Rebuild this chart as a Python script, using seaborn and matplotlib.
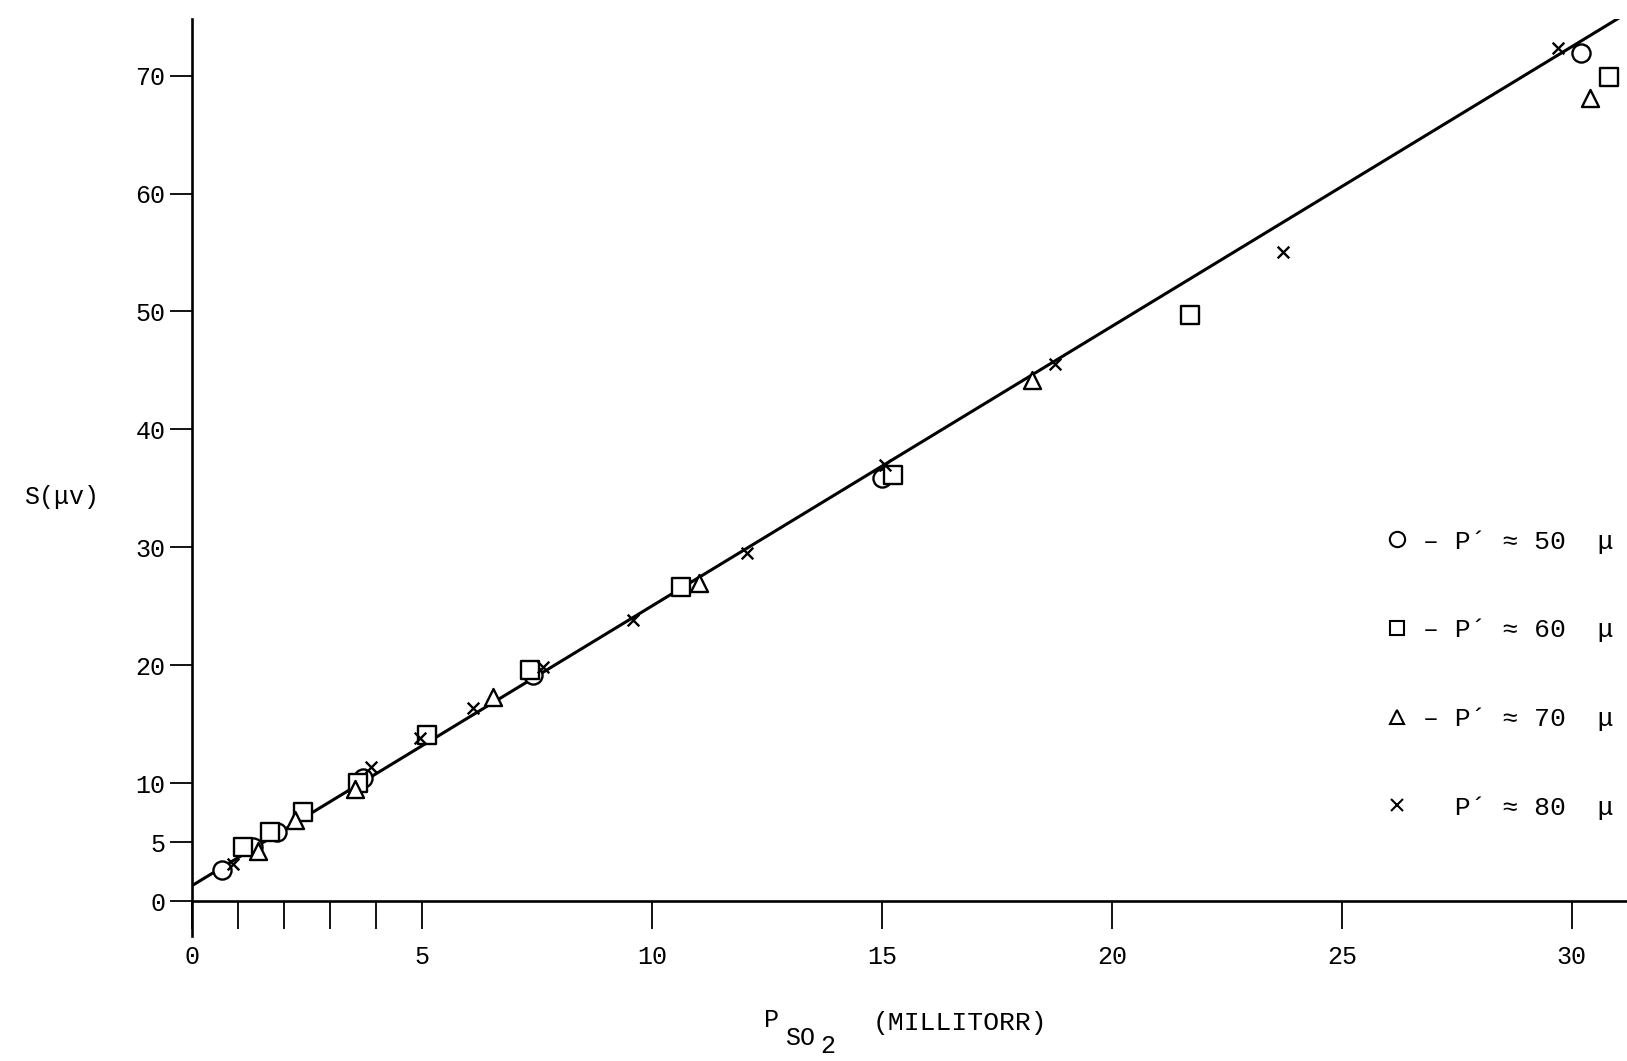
import numpy as np
import pandas as pd
import matplotlib
matplotlib.use("Agg")
import matplotlib.pyplot as plt
from matplotlib.lines import Line2D
import seaborn as sns

# ── Data ─────────────────────────────────────────────────────────────────────
circles_x   = [0.65, 1.33, 1.85, 3.72, 7.41, 15.0, 30.2]
circles_y   = [2.6, 4.6, 5.85, 10.4, 19.2, 35.9, 71.9]
squares_x   = [1.1, 1.7, 2.41, 3.6, 5.1, 7.35, 10.63, 15.24, 21.7, 30.8]
squares_y   = [4.6, 5.85, 7.55, 10.0, 14.1, 19.6, 26.6, 36.1, 49.7, 69.9]
triangles_x = [1.43, 2.24, 3.54, 6.54, 11.02, 18.26, 30.4]
triangles_y = [4.2, 6.9, 9.5, 17.3, 27.0, 44.2, 68.1]
crosses_x   = [0.9, 3.9, 4.96, 6.1, 7.63, 9.59, 12.07, 15.07, 18.76, 23.72, 29.7]
crosses_y   = [3.1, 11.4, 13.8, 16.4, 19.85, 23.8, 29.5, 37.0, 45.5, 55.0, 72.3]

fit_x = [0.0, 31.2]
fit_y = [1.3, 75.3]

x_major = [0, 5, 10, 15, 20, 25, 30]
x_minor = [1, 2, 3, 4]
y_ticks = [0, 5, 10, 20, 30, 40, 50, 60, 70]

legend_labels = ["– P´ ≈ 50  μ", "– P´ ≈ 60  μ", "– P´ ≈ 70  μ", "  P´ ≈ 80  μ"]

# ── Style ────────────────────────────────────────────────────────────────────
sns.set_theme(style="ticks")
FONT = ["Liberation Mono", "DejaVu Sans Mono"]
plt.rcParams["font.family"] = FONT
plt.rcParams["text.color"] = "black"
plt.rcParams["axes.labelcolor"] = "black"

fig = plt.figure(figsize=(16.27, 10.61), dpi=100)
ax = fig.add_axes([0.118, 0.1508, 0.882, 0.8313])

# fitted line
sns.lineplot(x=fit_x, y=fit_y, ax=ax, color="black", linewidth=2.2)

# data series
sns.scatterplot(x=circles_x, y=circles_y, ax=ax, marker="o", s=170,
                facecolor="white", edgecolor="black", linewidth=1.7, zorder=3)
sns.scatterplot(x=squares_x, y=squares_y, ax=ax, marker="s", s=150,
                facecolor="white", edgecolor="black", linewidth=1.7, zorder=3)
sns.scatterplot(x=triangles_x, y=triangles_y, ax=ax, marker="^", s=150,
                facecolor="white", edgecolor="black", linewidth=1.7, zorder=3)
sns.scatterplot(x=crosses_x, y=crosses_y, ax=ax, marker="x", s=70,
                color="black", linewidth=1.7, zorder=3)

ax.set_xlim(0, 31.2)
ax.set_ylim(0, 74.8)

ax.set_xticks(x_major)
ax.set_xticks(x_minor, minor=True)
ax.set_yticks(y_ticks)
ax.tick_params(axis="x", which="both", direction="out", length=20, width=1.3,
               labelsize=18, pad=12, colors="black")
ax.tick_params(axis="y", direction="out", length=16, width=1.3,
               labelsize=18, pad=3, colors="black")

ax.spines[["top", "right"]].set_visible(False)
for sp in ["left", "bottom"]:
    ax.spines[sp].set_linewidth(1.9)
    ax.spines[sp].set_color("black")
ax.spines["left"].set_bounds(-3, 74.8)

# y label
ax.set_ylabel("S(μv)", fontsize=18, rotation=0, labelpad=0)
ax.yaxis.set_label_coords(-0.091, 0.445)

# x label: P with a full-size lowered SO2, as typed on the original
fig.text(771 / 1627, 1 - 1020 / 1061, "P", fontsize=18, ha="center", va="center")
fig.text(800 / 1627, 1 - 1038 / 1061, "SO", fontsize=18, ha="center", va="center")
fig.text(828 / 1627, 1 - 1046 / 1061, "2", fontsize=18, ha="center", va="center")
fig.text(960 / 1627, 1 - 1023 / 1061, "(MILLITORR)", fontsize=19, ha="center", va="center")

handles = [
    Line2D([], [], linestyle="none", marker="o", markersize=11,
           markerfacecolor="white", markeredgecolor="black", markeredgewidth=1.5),
    Line2D([], [], linestyle="none", marker="s", markersize=10,
           markerfacecolor="white", markeredgecolor="black", markeredgewidth=1.5),
    Line2D([], [], linestyle="none", marker="^", markersize=10,
           markerfacecolor="white", markeredgecolor="black", markeredgewidth=1.5),
    Line2D([], [], linestyle="none", marker="x", markersize=8,
           color="black", markeredgewidth=1.5),
]
ax.legend(handles, legend_labels, loc="upper left", bbox_to_anchor=(0.823, 0.433),
          frameon=False, fontsize=19, labelspacing=2.45, handlelength=1.0,
          handletextpad=0.5, borderaxespad=0)

fig.savefig("out.png", dpi=100)
plt.close(fig)
